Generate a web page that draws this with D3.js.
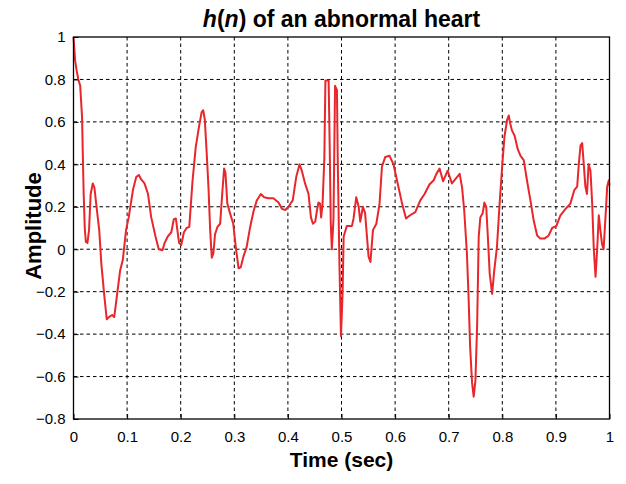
<!DOCTYPE html>
<html>
<head>
<meta charset="utf-8">
<script src="https://cdnjs.cloudflare.com/ajax/libs/d3/7.8.5/d3.min.js"></script>
<style>
  body { margin: 0; background: #fff; }
  .chart-wrapper { width: 626px; height: 484px; }
  text { font-family: 'Liberation Sans', Arial, sans-serif; fill: #000; }
</style>
</head>
<body>
<div class="chart-wrapper"></div>
<script>
// time samples (sec)
const time = [
  0.000, 0.003, 0.006, 0.009, 0.0125, 0.016, 0.0175, 0.019, 0.021, 0.023,
  0.026, 0.029, 0.032, 0.036, 0.039, 0.043, 0.048, 0.052, 0.0575, 0.062,
  0.066, 0.072, 0.076, 0.081, 0.087, 0.092, 0.098, 0.103, 0.111, 0.117,
  0.122, 0.126, 0.1325, 0.139, 0.145, 0.153, 0.159, 0.166, 0.170, 0.176,
  0.1825, 0.187, 0.191, 0.193, 0.197, 0.201, 0.206, 0.211, 0.216, 0.222,
  0.228, 0.234, 0.239, 0.242, 0.245, 0.249, 0.252, 0.255, 0.258, 0.261,
  0.264, 0.2685, 0.2736, 0.278, 0.281, 0.2835, 0.287, 0.292, 0.298, 0.3035,
  0.308, 0.312, 0.317, 0.323, 0.3296, 0.336, 0.342, 0.3495, 0.3557, 0.3638,
  0.373, 0.3825, 0.389, 0.395, 0.401, 0.409, 0.4155, 0.4217, 0.426, 0.432,
  0.4385, 0.443, 0.4467, 0.451, 0.454, 0.457, 0.460, 0.462, 0.4647, 0.468,
  0.470, 0.476, 0.478, 0.480, 0.482, 0.485, 0.488, 0.4915, 0.493, 0.496,
  0.499, 0.502, 0.504, 0.510, 0.5195, 0.5225, 0.5275, 0.532, 0.535, 0.540,
  0.544, 0.5505, 0.554, 0.5587, 0.565, 0.571, 0.5755, 0.5817, 0.5897, 0.597,
  0.6035, 0.613, 0.6204, 0.628, 0.6377, 0.647, 0.655, 0.664, 0.672, 0.677,
  0.683, 0.6895, 0.698, 0.706, 0.7124, 0.7205, 0.725, 0.729, 0.734, 0.737,
  0.740, 0.7436, 0.7466, 0.7498, 0.753, 0.756, 0.759, 0.7634, 0.7666, 0.770,
  0.7727, 0.7765, 0.781, 0.785, 0.790, 0.795, 0.800, 0.804, 0.809, 0.812,
  0.815, 0.818, 0.823, 0.829, 0.834, 0.840, 0.846, 0.8525, 0.8586, 0.865,
  0.871, 0.8786, 0.8866, 0.893, 0.901, 0.9085, 0.918, 0.927, 0.9346, 0.9397,
  0.9427, 0.946, 0.949, 0.952, 0.955, 0.958, 0.961, 0.9645, 0.9677, 0.9707,
  0.974, 0.977, 0.980, 0.983, 0.986, 0.989, 0.9925, 0.9957, 0.9987, 1.000
];

// h(n) amplitude at each time sample
const amplitude = [
  1.00, 0.89, 0.84, 0.80, 0.77, 0.62, 0.43, 0.26, 0.10, 0.035,
  0.03, 0.09, 0.26, 0.31, 0.29, 0.20, 0.09, -0.07, -0.22, -0.33,
  -0.32, -0.31, -0.32, -0.22, -0.10, -0.05, 0.09, 0.15, 0.28, 0.34,
  0.35, 0.33, 0.31, 0.26, 0.15, 0.06, 0.00, -0.005, 0.03, 0.06,
  0.08, 0.14, 0.145, 0.105, 0.03, 0.02, 0.08, 0.10, 0.105, 0.32,
  0.48, 0.575, 0.645, 0.655, 0.61, 0.43, 0.28, 0.09, -0.04, -0.02,
  0.07, 0.105, 0.12, 0.28, 0.38, 0.36, 0.215, 0.17, 0.12, -0.005,
  -0.09, -0.085, -0.035, 0.01, 0.105, 0.18, 0.23, 0.26, 0.245, 0.24,
  0.24, 0.22, 0.19, 0.185, 0.20, 0.23, 0.34, 0.40, 0.37, 0.31,
  0.26, 0.15, 0.12, 0.13, 0.18, 0.22, 0.215, 0.15, 0.215, 0.43,
  0.795, 0.795, 0.48, 0.12, 0.00, 0.14, 0.77, 0.75, 0.42, -0.05,
  -0.41, -0.21, 0.06, 0.11, 0.11, 0.145, 0.245, 0.20, 0.13, 0.20,
  0.17, -0.035, -0.06, 0.09, 0.12, 0.215, 0.39, 0.435, 0.44, 0.40,
  0.325, 0.215, 0.145, 0.16, 0.175, 0.23, 0.26, 0.305, 0.325, 0.355,
  0.38, 0.32, 0.37, 0.31, 0.33, 0.355, 0.29, 0.18, -0.02, -0.22,
  -0.46, -0.63, -0.695, -0.62, -0.365, 0.06, 0.15, 0.17, 0.22, 0.20,
  0.075, -0.115, -0.21, -0.10, 0.01, 0.215, 0.40, 0.53, 0.61, 0.63,
  0.59, 0.56, 0.535, 0.47, 0.44, 0.42, 0.325, 0.23, 0.135, 0.065,
  0.05, 0.05, 0.065, 0.10, 0.11, 0.16, 0.19, 0.215, 0.28, 0.295,
  0.40, 0.49, 0.50, 0.40, 0.295, 0.26, 0.40, 0.37, 0.215, 0.00,
  -0.13, 0.00, 0.16, 0.09, 0.025, 0.00, 0.15, 0.295, 0.325, 0.30
];

const xTicks = [0, 0.1, 0.2, 0.3, 0.4, 0.5, 0.6, 0.7, 0.8, 0.9, 1];
const yTicks = [-0.8, -0.6, -0.4, -0.2, 0, 0.2, 0.4, 0.6, 0.8, 1];

const data = time.map((t, i) => ({ t: t, v: amplitude[i] }));

const width = 626, height = 484;
const margin = { top: 37, right: 16.5, bottom: 65, left: 73.5 };
const w = width - margin.left - margin.right;
const h = height - margin.top - margin.bottom;

const svg = d3.select('.chart-wrapper')
  .append('svg')
  .attr('width', width)
  .attr('height', height);

const g = svg.append('g')
  .attr('transform', 'translate(' + margin.left + ',' + margin.top + ')');

const x = d3.scaleLinear().domain([0, 1]).range([0, w]);
const y = d3.scaleLinear().domain([-0.8, 1]).range([h, 0]);

// grid
g.append('g')
  .selectAll('line')
  .data(xTicks.slice(1, -1))
  .enter()
  .append('line')
  .attr('x1', d => x(d)).attr('x2', d => x(d))
  .attr('y1', 0).attr('y2', h)
  .attr('stroke', '#000')
  .attr('stroke-width', 1)
  .attr('stroke-dasharray', '3.5,3');

g.append('g')
  .selectAll('line')
  .data(yTicks.slice(1, -1))
  .enter()
  .append('line')
  .attr('x1', 0).attr('x2', w)
  .attr('y1', d => y(d)).attr('y2', d => y(d))
  .attr('stroke', '#000')
  .attr('stroke-width', 1)
  .attr('stroke-dasharray', '3.5,3');

// signal
const line = d3.line()
  .x(d => x(d.t))
  .y(d => y(d.v));

g.append('path')
  .datum(data)
  .attr('fill', 'none')
  .attr('stroke', '#e8262b')
  .attr('stroke-width', 2)
  .attr('stroke-linejoin', 'round')
  .attr('d', line);

// box
g.append('rect')
  .attr('x', 0).attr('y', 0)
  .attr('width', w).attr('height', h)
  .attr('fill', 'none')
  .attr('stroke', '#000')
  .attr('stroke-width', 1.3);

// axes
const xAxis = d3.axisBottom(x)
  .tickValues(xTicks)
  .tickFormat(d3.format('~g'))
  .tickSizeInner(-5).tickSizeOuter(0)
  .tickPadding(12);

g.append('g')
  .attr('transform', 'translate(0,' + h + ')')
  .call(xAxis)
  .call(s => s.select('.domain').remove())
  .selectAll('text')
  .style('font-size', '15px');

const yAxis = d3.axisLeft(y)
  .tickValues(yTicks)
  .tickFormat(d3.format('~g'))
  .tickSizeInner(-5).tickSizeOuter(0)
  .tickPadding(8);

g.append('g')
  .call(yAxis)
  .call(s => s.select('.domain').remove())
  .selectAll('text')
  .style('font-size', '15px');

g.selectAll('.tick line').attr('stroke', '#000');

// title
const title = svg.append('text')
  .attr('x', margin.left + w / 2)
  .attr('y', 27)
  .attr('text-anchor', 'middle')
  .style('font-size', '23px')
  .style('font-weight', '700');
title.append('tspan').style('font-style', 'italic').text('h');
title.append('tspan').text('(');
title.append('tspan').style('font-style', 'italic').text('n');
title.append('tspan').text(') of an abnormal heart');

svg.append('text')
  .attr('x', margin.left + w / 2)
  .attr('y', 467)
  .attr('text-anchor', 'middle')
  .style('font-size', '21px')
  .style('font-weight', '700')
  .text('Time (sec)');

svg.append('text')
  .attr('transform', 'translate(41,' + (margin.top + h / 2 - 2) + ') rotate(-90)')
  .attr('text-anchor', 'middle')
  .style('font-size', '22px')
  .style('font-weight', '700')
  .text('Amplitude');
</script>
</body>
</html>
